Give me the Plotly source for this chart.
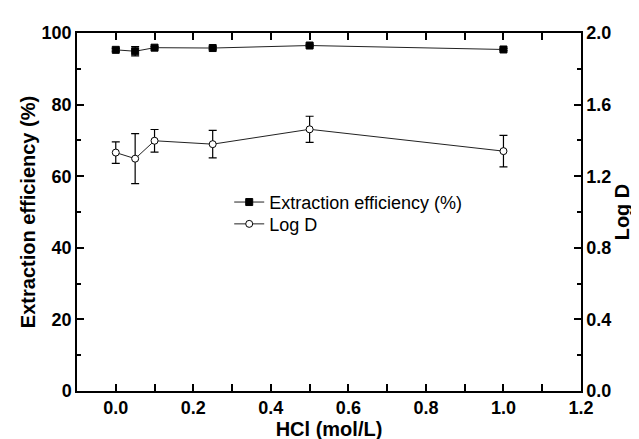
import plotly.graph_objects as go

hcl = [0.0, 0.05, 0.1, 0.25, 0.5, 1.0]
extraction = [95.3, 94.9, 95.9, 95.8, 96.5, 95.4]
extraction_err = [0.4, 1.3, 0.3, 0.3, 0.3, 0.3]
logd = [1.332, 1.298, 1.398, 1.379, 1.462, 1.340]
logd_err = [0.06, 0.14, 0.063, 0.077, 0.073, 0.088]

x_ticks = [0.0, 0.2, 0.4, 0.6, 0.8, 1.0, 1.2]
x_ticklabels = ["0.0", "0.2", "0.4", "0.6", "0.8", "1.0", "1.2"]
y_ticks = [0, 20, 40, 60, 80, 100]
y2_ticks = [0.0, 0.4, 0.8, 1.2, 1.6, 2.0]
y2_ticklabels = ["0.0", "0.4", "0.8", "1.2", "1.6", "2.0"]

FONT = "Arial, Liberation Sans, sans-serif"

fig = go.Figure()
fig.add_trace(go.Scatter(
    x=hcl, y=extraction, name="Extraction efficiency (%)",
    mode="lines+markers",
    line=dict(color="#222", width=1),
    marker=dict(symbol="square", size=7, color="black", line=dict(color="black", width=1)),
    error_y=dict(type="data", array=extraction_err, color="black", thickness=1.2, width=4),
    yaxis="y", legend="legend",
))
fig.add_trace(go.Scatter(
    x=hcl, y=logd, name="Log D",
    mode="lines+markers",
    line=dict(color="#222", width=1),
    marker=dict(symbol="circle", size=7, color="white", line=dict(color="black", width=1)),
    error_y=dict(type="data", array=logd_err, color="black", thickness=1.2, width=4),
    yaxis="y2", legend="legend2",
))

axis_common = dict(
    showline=True, linecolor="black", linewidth=1.5,
    ticks="inside", ticklen=7, tickwidth=1.5, tickcolor="black",
    showgrid=False, zeroline=False,
    tickfont=dict(family=FONT, size=18, color="black", weight="bold"),
)

legend_common = dict(
    xanchor="left", yanchor="middle",
    bgcolor="rgba(0,0,0,0)", borderwidth=0,
    font=dict(family=FONT, size=18, color="black"),
)

fig.update_layout(
    width=639, height=439,
    margin=dict(l=69, r=66, t=25, b=51),
    paper_bgcolor="white", plot_bgcolor="white",
    showlegend=True,
    legend=dict(x=0.302, y=0.527, **legend_common),
    legend2=dict(x=0.302, y=0.466, **legend_common),
    xaxis=dict(
        range=[-0.1, 1.2], tickvals=x_ticks, ticktext=x_ticklabels,
        mirror="allticks",
        minor=dict(ticks="inside", dtick=0.1, tick0=0, ticklen=4, tickwidth=1.5, tickcolor="black"),
        title=dict(text="HCl (mol/L)", standoff=3,
                   font=dict(family=FONT, size=20, color="black", weight="bold")),
        **axis_common,
    ),
    yaxis=dict(
        range=[0, 100], tickvals=y_ticks,
        minor=dict(ticks="inside", dtick=10, tick0=0, ticklen=4, tickwidth=1.5, tickcolor="black"),
        title=dict(text="Extraction efficiency (%)", standoff=1,
                   font=dict(family=FONT, size=20, color="black", weight="bold")),
        **axis_common,
    ),
    yaxis2=dict(
        range=[0, 2.0], tickvals=y2_ticks, ticktext=y2_ticklabels,
        overlaying="y", side="right",
        minor=dict(ticks="inside", dtick=0.2, tick0=0, ticklen=4, tickwidth=1.5, tickcolor="black"),
        title=dict(text="Log D", standoff=3,
                   font=dict(family=FONT, size=20, color="black", weight="bold")),
        **axis_common,
    ),
)

fig.write_html("out.html")
